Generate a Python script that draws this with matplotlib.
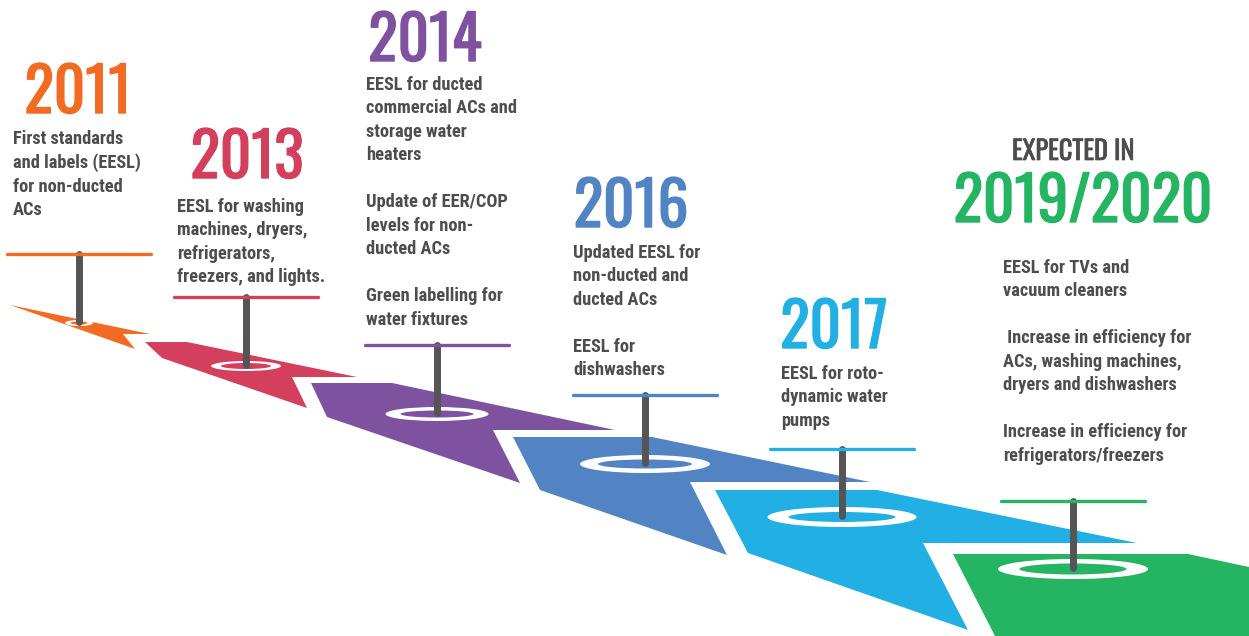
import matplotlib
matplotlib.use('Agg')
import matplotlib.pyplot as plt
import matplotlib.patheffects as pe
from matplotlib.patches import Polygon, Ellipse
from matplotlib import font_manager

# Datos del grafico
years = ['2011', '2013', '2014', '2016', '2017', '2019/2020']
descriptions = [
    'First standards\nand labels (EESL)\nfor non-ducted\nACs',
    'EESL for washing\nmachines, dryers,\nrefrigerators,\nfreezers, and lights.',
    'EESL for ducted\ncommercial ACs and\nstorage water\nheaters\n\nUpdate of EER/COP\nlevels for non-\nducted ACs\n\nGreen labelling for\nwater fixtures',
    'Updated EESL for\nnon-ducted and\nducted ACs\n\nEESL for\ndishwashers',
    'EESL for roto-\ndynamic water\npumps',
    'EESL for TVs and\nvacuum cleaners\n\n Increase in efficiency for\nACs, washing machines,\ndryers and dishwashers\n\nIncrease in efficiency for\nrefrigerators/freezers',
]
colors = ['#F26B22', '#D33F5D', '#7F52A0', '#5284C3', '#22AFE3', '#25B462']
expected_label = 'EXPECTED IN'

# Posiciones (pixeles, y hacia abajo)
year_x = [78, 247, 425, 631, 834, 1083]
year_y = [113, 178, 61, 227, 348, 222]
desc_x = [13, 177, 366, 573, 781, 1003]
desc_y = [130, 198, 76, 244, 365, 259]
post_x = [79, 246, 437, 645, 842, 1073]
bar_y = [254, 297, 345, 395, 449, 501]
bar_half = 72
ring_y = [323, 366, 414, 464, 517, 569]
ring_out = [(28, 6), (70, 10), (103, 14), (130, 18), (149, 20), (150, 20)]
ring_in = [(17, 3), (50, 6), (73, 7), (94, 9), (107, 10), (107, 11)]

shapes = [
    [(10, 305), (150, 334), (123, 334), (135, 349)],
    [(145, 342), (187, 342), (357, 377), (292, 377), (307, 408), (162, 358)],
    [(311, 383), (392, 383), (615, 430), (493, 430), (520, 483), (327, 417)],
    [(513, 437), (652, 437), (870, 482), (690, 482), (727, 555), (540, 490)],
    [(715, 490), (877, 490), (1137, 543), (923, 543), (968, 630), (748, 553)],
    [(953, 554), (1188, 554), (1249, 567), (1249, 636), (995, 636)],
]

# Fuentes condensadas
nombres = {f.name for f in font_manager.fontManager.ttflist}
fuente_anio = 'Oswald' if 'Oswald' in nombres else 'DejaVu Sans'
fuente_texto = 'Roboto Condensed' if 'Roboto Condensed' in nombres else 'DejaVu Sans'
plt.rcParams['font.family'] = [fuente_texto, 'DejaVu Sans']

gris = '#4D4D4D'
post_color = '#555555'

fig = plt.figure(figsize=(12.49, 6.36), dpi=100)
ax = fig.add_axes([0, 0, 1, 1])
ax.set_xlim(0, 1249)
ax.set_ylim(636, 0)
ax.axis('off')

for k in range(len(years)):
    c = colors[k]
    ax.add_patch(Polygon(shapes[k], closed=True, facecolor=c, edgecolor='none', zorder=1))
    ax.add_patch(Ellipse((post_x[k], ring_y[k]), ring_out[k][0], ring_out[k][1],
                         facecolor='white', edgecolor='none', zorder=2))
    ax.add_patch(Ellipse((post_x[k], ring_y[k]), ring_in[k][0], ring_in[k][1],
                         facecolor=c, edgecolor='none', zorder=3))
    ax.plot([post_x[k], post_x[k]], [bar_y[k], ring_y[k] - 1], color=post_color,
            lw=5, solid_capstyle='round', zorder=4)
    ax.plot([post_x[k] - bar_half, post_x[k] + bar_half], [bar_y[k], bar_y[k]],
            color=c, lw=2.4, solid_capstyle='round', zorder=5)

    # Oswald solo tiene peso 400: se engruesa un poco con un trazo del mismo color
    ax.text(year_x[k], year_y[k], years[k], color=c, fontsize=44, family=fuente_anio,
            ha='center', va='baseline',
            path_effects=[pe.withStroke(linewidth=1, foreground=c)])
    ax.text(desc_x[k], desc_y[k], descriptions[k], color=gris, fontsize=13.2,
            fontweight='bold', ha='left', va='top', linespacing=1.39)

ax.text(1073, 160, expected_label, color=gris, fontsize=19, family=fuente_anio,
        ha='center', va='baseline',
        path_effects=[pe.withStroke(linewidth=0.5, foreground=gris)])

fig.savefig('out.png', dpi=100)
